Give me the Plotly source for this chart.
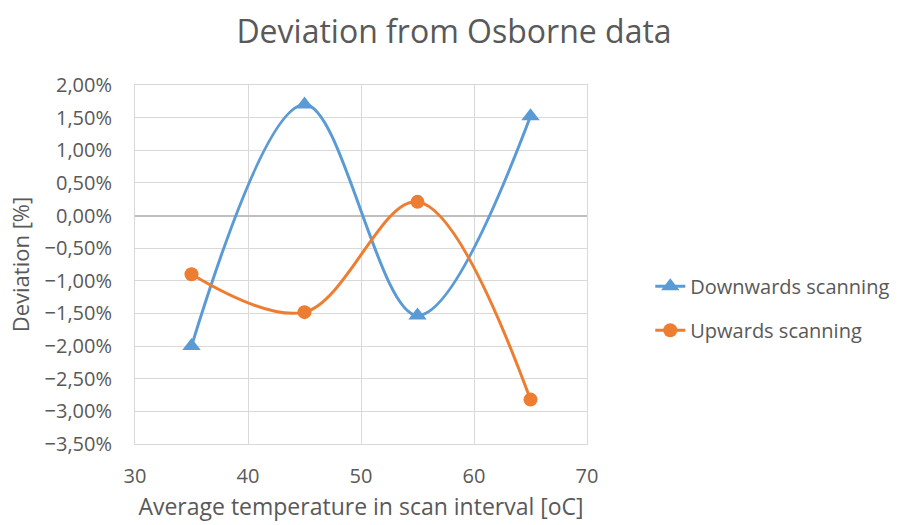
import plotly.graph_objects as go

temps = [35, 45, 55, 65]
downwards = [-0.0200, 0.0170, -0.0153, 0.0152]
upwards = [-0.0090, -0.0148, 0.0021, -0.0282]

font_family = "Open Sans"
grey = "#595959"

fig = go.Figure()
fig.add_trace(go.Scatter(
    x=temps, y=downwards, name="Downwards scanning", legendgroup="a",
    mode="lines+markers",
    line=dict(color="#5B9BD5", width=3, shape="spline", smoothing=1.0),
    marker=dict(symbol="triangle-up", size=16, color="#5B9BD5"),
))
fig.add_trace(go.Scatter(
    x=temps, y=upwards, name="Upwards scanning", legendgroup="b",
    mode="lines+markers",
    line=dict(color="#ED7D31", width=3, shape="spline", smoothing=1.0),
    marker=dict(symbol="circle", size=14, color="#ED7D31"),
))

fig.update_layout(
    width=908, height=525,
    margin=dict(l=135, r=321, t=85, b=81),
    paper_bgcolor="white", plot_bgcolor="white",
    separators=", ",
    font=dict(family=font_family, color=grey, size=20),
    title=dict(text="Deviation from Osborne data", x=0.5, xanchor="center",
               xref="container", y=0.94, yanchor="middle",
               font=dict(size=32, color=grey)),
    legend=dict(x=1.14, y=0.378, xanchor="left", yanchor="middle",
                font=dict(size=20, color=grey), tracegroupgap=15,
                borderwidth=0, bgcolor="rgba(0,0,0,0)"),
    showlegend=True,
)
fig.update_xaxes(range=[30, 70], dtick=10, tick0=30, automargin=False,
                 showgrid=True, gridcolor="#d9d9d9", gridwidth=1,
                 showline=True, linecolor="#d9d9d9", mirror=True,
                 zeroline=False, ticks="", ticklabelstandoff=14,
                 title=dict(text="Average temperature in scan interval [oC]",
                            font=dict(size=23, color=grey), standoff=10),
                 tickfont=dict(size=20, color=grey))
fig.update_yaxes(range=[-0.035, 0.02], dtick=0.005, tick0=0, automargin=False,
                 tickformat=".2%",
                 showgrid=True, gridcolor="#d9d9d9", gridwidth=1,
                 showline=True, linecolor="#d9d9d9", mirror=True,
                 zeroline=True, zerolinecolor="#bfbfbf", zerolinewidth=1.5,
                 ticks="", ticklabelstandoff=18,
                 title=dict(text="Deviation [%]", font=dict(size=22, color=grey), standoff=8),
                 tickfont=dict(size=20, color=grey))

fig.write_html("out.html")
